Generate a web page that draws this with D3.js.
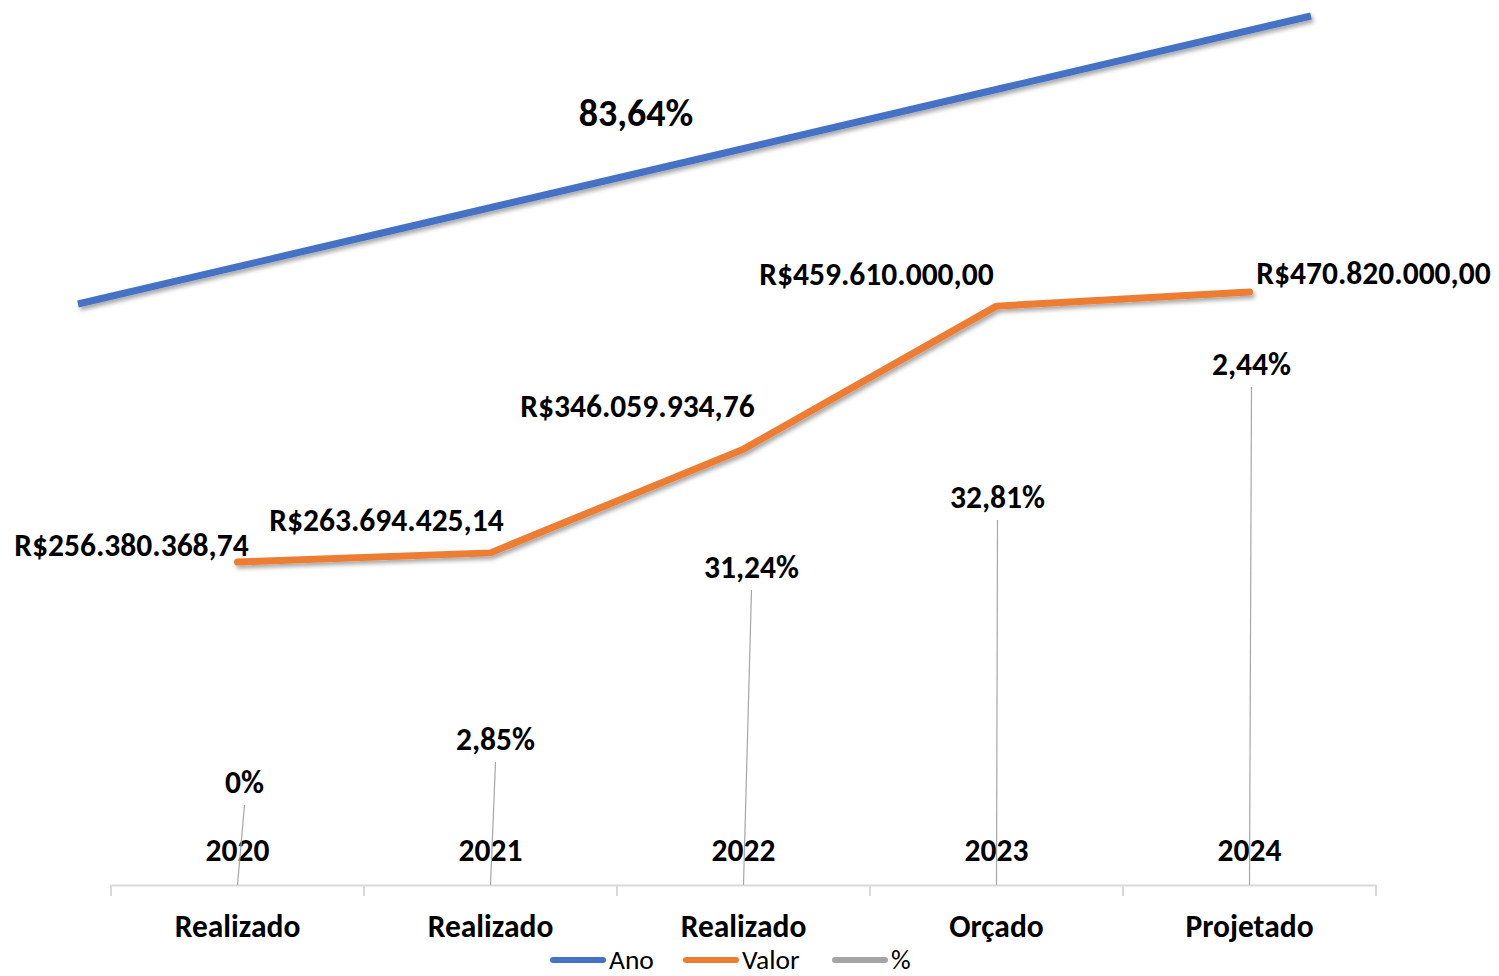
<!DOCTYPE html>
<html>
<head>
<meta charset="utf-8">
<script src="https://cdn.jsdelivr.net/npm/d3@7"></script>
<style>
    body { margin: 0; background: #fff; }
    svg text { font-family: Carlito, Calibri, Lato, sans-serif; fill: #000; }
</style>
</head>
<body>
<div id="chart"></div>
<script>
// Chart data
const categories = ["Realizado", "Realizado", "Realizado", "Orçado", "Projetado"];
const anos = [2020, 2021, 2022, 2023, 2024];
const valores = [256380368.74, 263694425.14, 346059934.76, 459610000.00, 470820000.00];
const percentuais = [0, 0.0285, 0.3124, 0.3281, 0.0244];
const legendItems = ["Ano", "Valor", "%"];

// label offsets (dx, dy relative to data point)
const valorLabelOffsets = [[-106, -17], [-104, -33], [-106, -43], [-120, -32], [124, -19]];
const pctLabelOffsets = [[7, -103], [5, -146], [8, -318], [1, -388], [2, -521]];

const colors = { ano: "#4472c4", valor: "#ed7d31", pct: "#a5a5a5" };

const width = 1499, height = 976;
const plot = { left: 111, right: 1376, bottom: 885 };
const labelSize = 31.5;

const svg = d3.select("#chart")
    .append("svg")
    .attr("width", width)
    .attr("height", height);

// Shadow like the Excel line effect
const defs = svg.append("defs");
const shadow = defs.append("filter").attr("id", "shadow")
    .attr("x", "-5%").attr("y", "-50%").attr("width", "110%").attr("height", "200%");
shadow.append("feDropShadow")
    .attr("dx", 2).attr("dy", 3).attr("stdDeviation", 2)
    .attr("flood-color", "#000").attr("flood-opacity", 0.35);

const x = d3.scaleBand()
    .domain(d3.range(categories.length))
    .range([plot.left, plot.right]);

const y = d3.scaleLinear()
    .domain([0, 500000000])
    .range([plot.bottom, plot.bottom - 500 * 1.2595]);

// Secondary scales for the Ano line
const x2 = d3.scaleLinear().domain([2020, 2024]).range([78, 1311]);
const y2 = d3.scaleLinear().domain([2020, 2024]).range([304, 16]);

const cx = i => x(i) + x.bandwidth() / 2;

// Category axis
const axis = d3.axisBottom(x)
    .tickFormat(i => categories[i])
    .tickSize(0)
    .tickPadding(30);

const axisG = svg.append("g")
    .attr("transform", `translate(0,${plot.bottom})`)
    .call(axis);
axisG.select(".domain").attr("stroke", "#d9d9d9").attr("stroke-width", 2);
axisG.selectAll(".tick text")
    .attr("font-size", labelSize).attr("font-weight", "bold");

// tick marks on the category boundaries
svg.append("g").selectAll("line")
    .data(d3.range(categories.length + 1))
    .join("line")
    .attr("x1", i => plot.left + i * x.bandwidth())
    .attr("x2", i => plot.left + i * x.bandwidth())
    .attr("y1", plot.bottom)
    .attr("y2", plot.bottom + 11)
    .attr("stroke", "#d9d9d9")
    .attr("stroke-width", 2);

// Ano line (blue)
const anoLine = d3.line().x(d => x2(d)).y(d => y2(d));
svg.append("path")
    .datum(anos)
    .attr("d", anoLine)
    .attr("fill", "none")
    .attr("stroke", colors.ano)
    .attr("stroke-width", 7)
    .attr("filter", "url(#shadow)");

// Growth label (total variation)
const growth = valores[valores.length - 1] / valores[0] - 1;
svg.append("text")
    .attr("x", 636).attr("y", 126)
    .attr("text-anchor", "middle")
    .attr("font-size", 38).attr("font-weight", "bold")
    .text(d3.format(".2f")(growth * 100).replace(".", ",") + "%");

// % line (gray) lies on the baseline
const pctLine = d3.line().x((d, i) => cx(i)).y(d => y(d));
svg.append("path")
    .datum(percentuais)
    .attr("d", pctLine)
    .attr("fill", "none")
    .attr("stroke", colors.pct)
    .attr("stroke-width", 7)
    .attr("stroke-linecap", "round")
    .attr("filter", "url(#shadow)");

// Valor line (orange)
const valorLine = d3.line().x((d, i) => cx(i)).y(d => y(d));
svg.append("path")
    .datum(valores)
    .attr("d", valorLine)
    .attr("fill", "none")
    .attr("stroke", colors.valor)
    .attr("stroke-width", 7)
    .attr("stroke-linecap", "round")
    .attr("stroke-linejoin", "round")
    .attr("filter", "url(#shadow)");

// Year labels at the baseline
svg.append("g").selectAll("text")
    .data(anos)
    .join("text")
    .attr("x", (d, i) => cx(i))
    .attr("y", plot.bottom - 24)
    .attr("text-anchor", "middle")
    .attr("font-size", labelSize).attr("font-weight", "bold")
    .text(d => d);

// % leader lines + labels
const fmtPct = d => d === 0 ? "0%" : d3.format(".2f")(d * 100).replace(".", ",") + "%";
svg.append("g").selectAll("line")
    .data(percentuais)
    .join("line")
    .attr("x1", (d, i) => cx(i))
    .attr("y1", (d, i) => y(d))
    .attr("x2", (d, i) => cx(i) + pctLabelOffsets[i][0])
    .attr("y2", (d, i) => y(d) + pctLabelOffsets[i][1] + 23)
    .attr("stroke", "#a6a6a6")
    .attr("stroke-width", 1.2);

svg.append("g").selectAll("text")
    .data(percentuais)
    .join("text")
    .attr("x", (d, i) => cx(i) + pctLabelOffsets[i][0])
    .attr("y", (d, i) => y(d) + pctLabelOffsets[i][1] + 11)
    .attr("text-anchor", "middle")
    .attr("font-size", labelSize).attr("font-weight", "bold")
    .text(fmtPct);

// Valor labels
const fmtBRL = d => "R$" + d3.format(",.2f")(d).replace(/,/g, "#").replace(".", ",").replace(/#/g, ".");
svg.append("g").selectAll("text")
    .data(valores)
    .join("text")
    .attr("x", (d, i) => cx(i) + valorLabelOffsets[i][0])
    .attr("y", (d, i) => y(d) + valorLabelOffsets[i][1] + 11)
    .attr("text-anchor", "middle")
    .attr("font-size", labelSize).attr("font-weight", "bold")
    .text(fmtBRL);

// Legend (kept just inside the bottom edge)
const legendX = [551, 684, 833];
const legendColors = [colors.ano, colors.valor, colors.pct];
const legend = svg.append("g").selectAll("g")
    .data(legendItems)
    .join("g")
    .attr("transform", (d, i) => `translate(${legendX[i]},960)`);
legend.append("line")
    .attr("x1", 2).attr("x2", 52)
    .attr("stroke", (d, i) => legendColors[i])
    .attr("stroke-width", 6)
    .attr("stroke-linecap", "round");
legend.append("text")
    .attr("x", 58).attr("y", 9)
    .attr("font-size", 27.5)
    .text(d => d);
</script>
</body>
</html>
